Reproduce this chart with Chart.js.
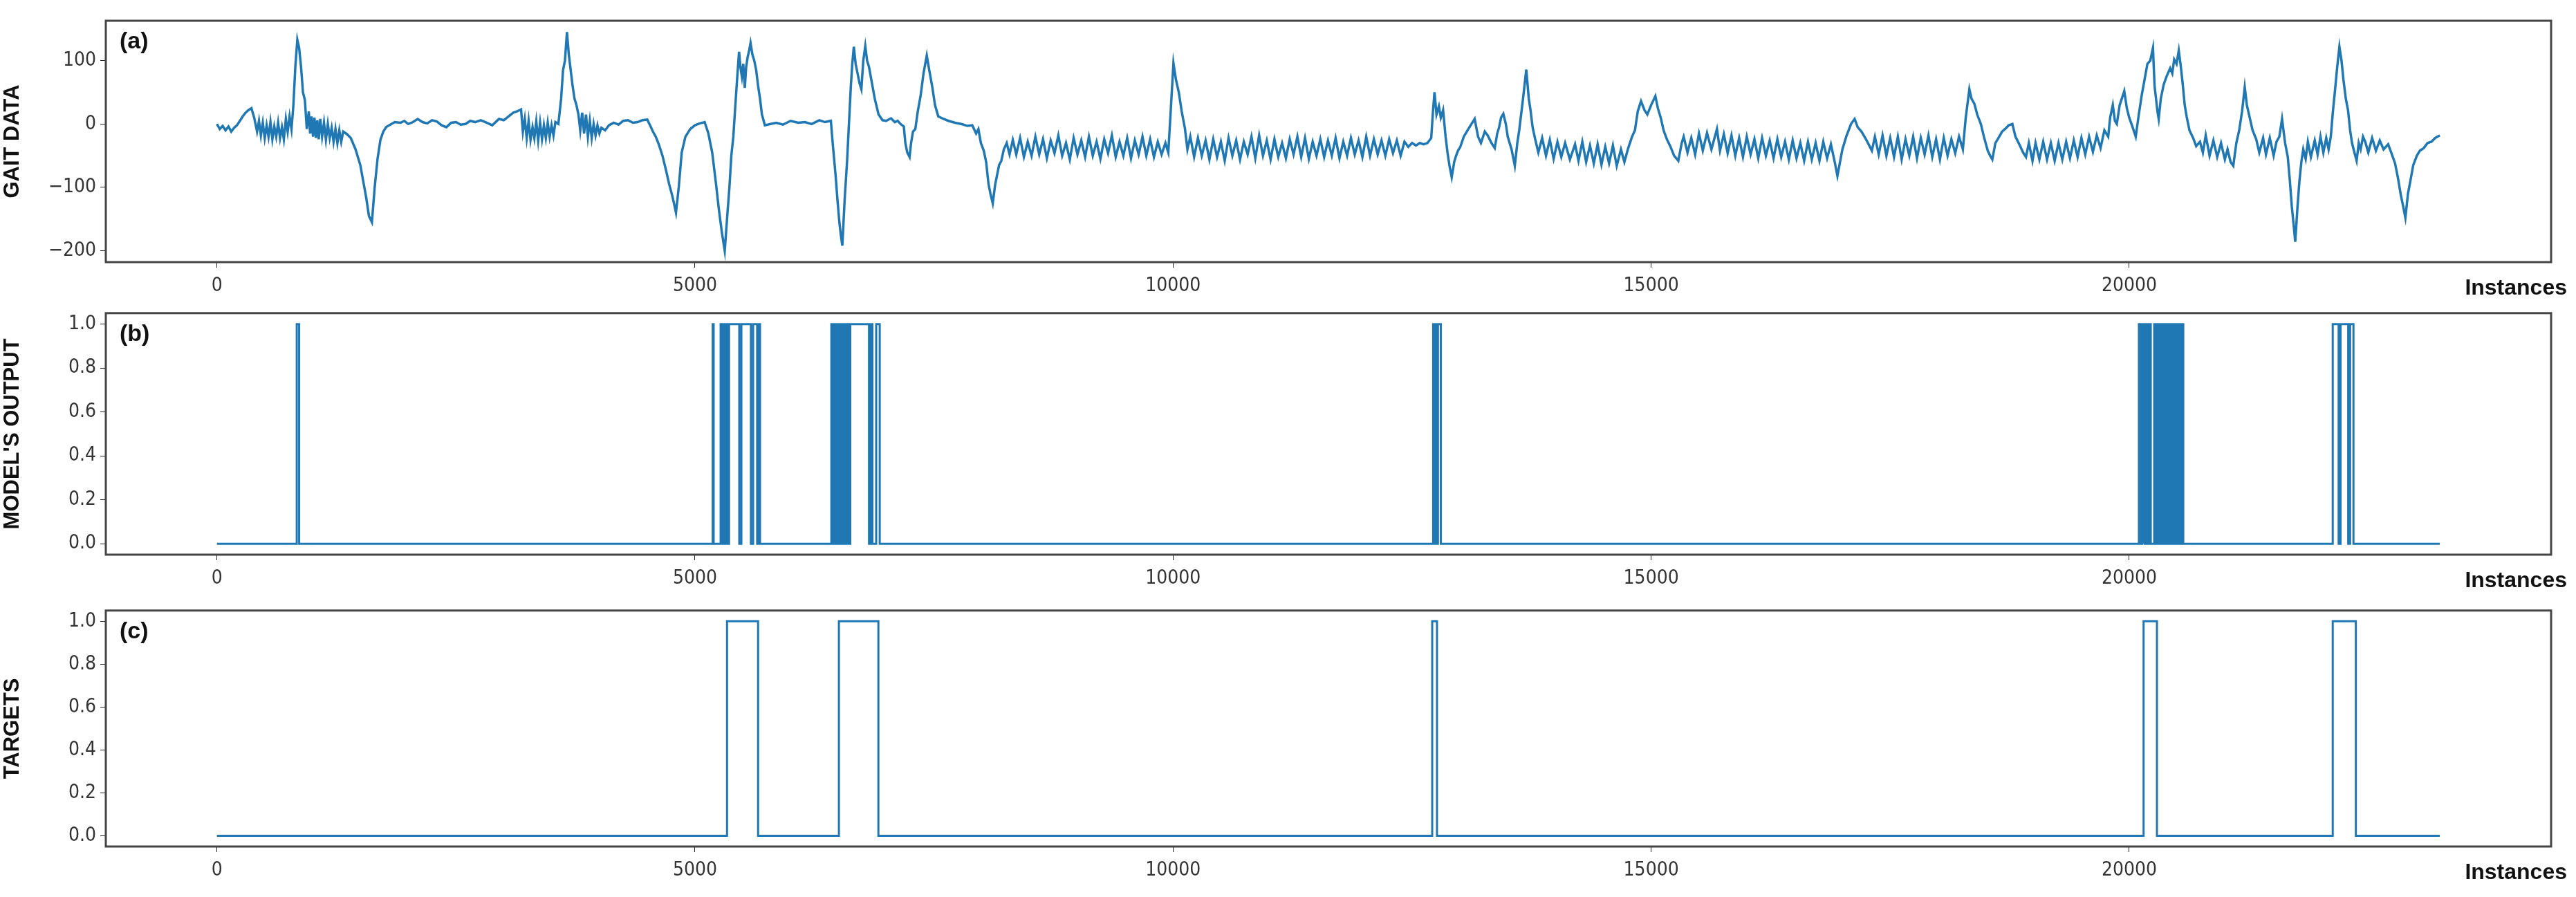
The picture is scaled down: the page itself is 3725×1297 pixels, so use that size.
<!DOCTYPE html>
<html><head><meta charset="utf-8">
<script src="https://cdn.jsdelivr.net/npm/chart.js@4"></script>
<style>body{margin:0;background:#fff;width:3725px;height:1297px;overflow:hidden}
.p{position:absolute;left:0;width:3725px}</style></head>
<body>
<div class="p" style="top:0;height:430px"><canvas id="ca"></canvas></div>
<div class="p" style="top:430px;height:430px"><canvas id="cb"></canvas></div>
<div class="p" style="top:860px;height:437px"><canvas id="cc"></canvas></div>
<script>
const xTicks=[0,5000,10000,15000,20000];
const gaitTicks=[-200,-100,0,100];
const binTicks=[0,0.2,0.4,0.6,0.8,1.0];
const gait=[[0,0],[30,-8],[60,-3],[90,-10],[121,-4],[150,-12],[180,-6],[210,-2],[240,5],[270,12],[300,18],[330,22],[361,25],[390,10],[420,-12],[440,5],[460,-18],[480,2],[500,-22],[520,-2],[540,-20],[560,3],[580,-24],[600,-4],[620,-20],[640,2],[660,-22],[680,-5],[700,-24],[721,8],[740,-12],[760,12],[780,-8],[800,30],[820,90],[841,133],[860,120],[880,90],[900,50],[920,38],[940,-8],[961,20],[975,-15],[990,12],[1005,-20],[1020,10],[1035,-22],[1050,6],[1065,-24],[1081,8],[1100,-20],[1120,2],[1140,-25],[1160,0],[1180,-22],[1200,-6],[1220,-28],[1240,-8],[1260,-30],[1280,-10],[1300,-28],[1321,-12],[1360,-16],[1400,-22],[1450,-40],[1500,-65],[1530,-90],[1560,-115],[1590,-145],[1621,-155],[1650,-100],[1680,-55],[1710,-25],[1740,-12],[1770,-5],[1801,-2],[1860,3],[1921,2],[1960,5],[2000,0],[2050,3],[2100,8],[2150,3],[2200,1],[2250,6],[2300,4],[2350,-2],[2400,-5],[2450,2],[2500,3],[2550,-1],[2600,0],[2650,5],[2700,3],[2760,6],[2821,2],[2880,-2],[2950,8],[3000,6],[3050,12],[3100,18],[3140,20],[3181,23],[3200,-12],[3220,8],[3240,-22],[3260,5],[3280,-25],[3301,-5],[3320,-22],[3340,4],[3360,-26],[3380,2],[3400,-24],[3420,-2],[3440,-22],[3460,2],[3480,-20],[3500,-2],[3520,-18],[3540,3],[3571,0],[3600,40],[3620,85],[3640,100],[3661,145],[3680,110],[3700,85],[3720,60],[3740,40],[3760,30],[3781,15],[3800,-10],[3820,18],[3840,-15],[3860,15],[3880,-20],[3900,5],[3920,-22],[3940,0],[3960,-18],[3980,-2],[4000,-15],[4021,-6],[4060,-10],[4100,-2],[4150,2],[4200,-1],[4250,5],[4300,6],[4350,2],[4400,3],[4450,6],[4501,7],[4530,-2],[4560,-12],[4590,-20],[4621,-32],[4660,-50],[4700,-75],[4730,-95],[4760,-112],[4780,-125],[4801,-140],[4830,-100],[4861,-45],[4900,-20],[4950,-8],[5000,-2],[5050,1],[5101,3],[5140,-15],[5180,-45],[5220,-95],[5250,-135],[5280,-170],[5311,-200],[5335,-150],[5360,-100],[5380,-50],[5401,-20],[5420,25],[5440,70],[5461,114],[5475,90],[5490,75],[5505,95],[5521,57],[5535,90],[5550,105],[5565,115],[5581,128],[5600,110],[5620,100],[5640,85],[5660,60],[5680,40],[5700,15],[5731,-2],[5790,0],[5850,2],[5920,-1],[6000,5],[6080,2],[6150,3],[6220,0],[6300,6],[6360,3],[6421,5],[6440,-30],[6470,-80],[6490,-120],[6510,-155],[6525,-175],[6541,-192],[6565,-120],[6590,-60],[6610,0],[6630,60],[6645,95],[6661,122],[6680,95],[6700,80],[6720,65],[6740,55],[6760,100],[6781,123],[6800,100],[6820,90],[6850,65],[6880,40],[6920,15],[6961,6],[7000,5],[7050,9],[7090,3],[7120,5],[7150,0],[7184,-4],[7200,-30],[7220,-45],[7244,-52],[7260,-30],[7280,-12],[7304,-8],[7330,20],[7360,45],[7390,80],[7424,108],[7450,85],[7480,60],[7510,30],[7544,12],[7600,8],[7650,5],[7720,2],[7784,0],[7850,-3],[7900,-2],[7940,-15],[7964,-8],[7990,-30],[8020,-42],[8045,-60],[8070,-95],[8090,-110],[8114,-125],[8140,-95],[8160,-80],[8180,-65],[8204,-58],[8230,-40],[8260,-30],[8290,-48],[8324,-25],
[8360,-48],[8400,-22],[8440,-52],[8480,-28],[8520,-50],[8560,-20],[8600,-48],[8640,-24],[8680,-54],[8720,-26],[8760,-46],[8800,-18],[8840,-50],[8880,-30],[8920,-56],[8960,-22],[9000,-48],[9040,-26],[9080,-52],[9120,-20],[9160,-50],[9200,-28],[9240,-55],[9280,-24],[9320,-46],[9360,-18],[9400,-52],[9440,-28],[9480,-50],[9520,-22],[9560,-54],[9600,-26],[9640,-48],[9680,-20],[9720,-50],[9760,-24],[9800,-52],[9840,-28],[9880,-48],[9920,-30],[9950,-45],[9975,20],[10004,96],[10030,70],[10060,50],[10090,20],[10124,-7],[10150,-40],[10180,-20],[10220,-52],[10260,-22],[10300,-50],[10340,-26],[10380,-56],[10420,-24],[10460,-52],[10500,-28],[10540,-58],[10580,-22],[10620,-50],[10660,-26],[10700,-56],[10740,-28],[10780,-48],[10820,-20],[10860,-54],[10900,-18],[10940,-50],[10980,-26],[11020,-56],[11060,-24],[11100,-52],[11140,-30],[11180,-54],[11220,-24],[11260,-48],[11300,-20],[11340,-52],[11380,-22],[11420,-55],[11460,-28],[11500,-50],[11540,-24],[11580,-52],[11620,-26],[11660,-50],[11700,-22],[11740,-54],[11780,-28],[11820,-50],[11860,-22],[11900,-48],[11940,-26],[11980,-52],[12020,-20],[12060,-50],[12100,-24],[12140,-48],[12180,-26],[12220,-50],[12260,-24],[12300,-46],[12340,-26],[12380,-50],[12420,-28],[12460,-36],[12500,-30],[12540,-34],[12580,-30],[12620,-32],[12660,-30],[12700,-22],[12718,20],[12734,50],[12755,15],[12780,28],[12800,10],[12824,22],[12850,-20],[12870,-45],[12890,-65],[12914,-84],[12940,-60],[12960,-50],[12980,-42],[13004,-36],[13040,-20],[13080,-10],[13120,0],[13154,8],[13190,-20],[13220,-30],[13260,-12],[13290,-18],[13330,-30],[13364,-38],[13390,-15],[13410,-5],[13430,10],[13454,16],[13480,0],[13500,-20],[13540,-40],[13574,-66],[13600,-30],[13620,-10],[13660,40],[13694,86],[13720,40],[13740,20],[13760,-5],[13784,-22],[13820,-45],[13860,-22],[13900,-50],[13940,-25],[13980,-55],[14020,-28],[14060,-52],[14100,-30],[14150,-56],[14204,-32],[14240,-58],[14280,-28],[14320,-60],[14360,-34],[14400,-62],[14440,-32],[14480,-64],[14520,-36],[14560,-62],[14600,-34],[14640,-66],[14684,-40],[14720,-60],[14760,-38],[14800,-20],[14830,-10],[14860,20],[14894,36],[14930,22],[14960,15],[15000,30],[15044,44],[15070,25],[15100,10],[15130,-10],[15164,-24],[15200,-35],[15240,-50],[15284,-58],[15320,-30],[15340,-20],[15380,-45],[15420,-22],[15460,-48],[15500,-15],[15540,-42],[15584,-14],[15630,-40],[15688,-8],[15720,-42],[15760,-16],[15800,-46],[15840,-18],[15880,-50],[15920,-22],[15960,-52],[16000,-20],[16040,-48],[16080,-24],[16120,-54],[16160,-22],[16200,-50],[16240,-26],[16280,-54],[16320,-24],[16360,-52],[16400,-28],[16440,-56],[16480,-26],[16520,-54],[16560,-30],[16600,-58],[16640,-28],[16680,-56],[16720,-30],[16760,-58],[16800,-28],[16840,-54],[16880,-32],[16920,-60],[16948,-82],[17000,-40],[17040,-20],[17090,0],[17128,8],[17160,-5],[17200,-12],[17250,-25],[17308,-42],[17340,-20],[17380,-48],[17420,-18],[17460,-50],[17500,-22],[17540,-52],[17580,-20],[17620,-56],[17660,-24],[17700,-50],[17740,-20],[17780,-54],[17820,-22],[17860,-48],[17900,-18],[17940,-52],[17980,-24],[18020,-56],[18060,-22],[18100,-50],[18140,-24],[18180,-46],[18220,-20],[18260,-40],[18290,10],[18328,55],[18350,40],[18380,32],[18410,15],[18448,0],[18480,-20],[18520,-42],[18545,-50],[18568,-56],[18600,-30],[18640,-20],[18670,-12],[18700,-8],[18740,-2],[18778,0],[18810,-20],[18850,-32],[18890,-45],[18920,-52],[18950,-30],[18988,-58],[19020,-30],[19060,-56],[19100,-28],[19140,-56],[19180,-30],[19220,-58],[19260,-30],[19300,-56],[19340,-28],[19380,-54],[19420,-26],[19460,-52],[19500,-22],[19540,-48],[19580,-20],[19620,-44],[19660,-18],[19700,-38],[19740,-10],[19780,-20],[19800,10],[19828,30],[19850,5],[19870,0],[19900,30],[19948,52],[19975,25],[20000,10],[20035,-5],[20068,-20],[20100,15],[20130,45],[20160,70],[20190,95],[20220,100],[20248,120],[20265,60],[20280,40],[20295,20],[20308,8],[20330,40],[20360,62],[20390,75],[20428,88],[20450,80],[20470,102],[20495,95],[20518,116],[20540,90],[20560,62],[20580,30],[20600,12],[20630,-10],[20668,-22],[20700,-35],[20740,-28],[20770,-45],[20800,-18],[20840,-50],[20880,-26],[20920,-52],[20960,-30],[21000,-56],[21028,-40],[21060,-60],[21088,-66],[21120,-30],[21150,-10],[21180,20],[21208,58],[21230,30],[21260,10],[21290,-10],[21328,-24],[21360,-45],[21400,-22],[21430,-48],[21470,-22],[21510,-50],[21540,-28],[21570,-20],[21598,8],[21630,-30],[21658,-52],[21680,-90],[21700,-130],[21720,-160],[21736,-186],[21760,-130],[21780,-90],[21800,-60],[21820,-40],[21845,-55],[21868,-28],[21900,-52],[21940,-26],[21970,-48],[22000,-20],[22030,-45],[22060,-22],[22085,-40],[22108,-20],[22130,20],[22150,50],[22175,90],[22198,122],[22220,100],[22240,70],[22265,40],[22288,22],[22310,-10],[22330,-30],[22355,-45],[22378,-58],[22400,-30],[22420,-40],[22445,-20],[22468,-28],[22500,-45],[22540,-22],[22580,-42],[22620,-26],[22660,-40],[22708,-32],[22740,-45],[22780,-62],[22810,-85],[22840,-112],[22865,-130],[22888,-148],[22915,-110],[22940,-90],[22970,-65],[23008,-50],[23040,-42],[23080,-38],[23120,-30],[23160,-28],[23200,-22],[23248,-18]];
const modelOn=[[835,860],[5185,5195],[5268,5278],[5285,5295],[5302,5312],[5320,5330],[5338,5348],[5356,5463],[5485,5585],[5608,5650],[5660,5680],[6426,6436],[6444,6454],[6462,6472],[6480,6490],[6498,6508],[6516,6526],[6534,6544],[6552,6562],[6570,6580],[6588,6598],[6606,6616],[6624,6820],[6835,6855],[6895,6932],[12720,12735],[12745,12760],[12770,12800],[20101,20111],[20118,20128],[20135,20145],[20152,20162],[20170,20180],[20188,20198],[20206,20225],[20261,20271],[20280,20290],[20300,20310],[20320,20330],[20340,20350],[20360,20370],[20380,20390],[20400,20410],[20420,20430],[20440,20450],[20460,20470],[20480,20490],[20500,20510],[20520,20530],[20545,20565],[22128,22190],[22210,22290],[22310,22345]];
const targetOn=[[5335,5660],[6505,6918],[12710,12760],[20150,20290],[22128,22370]];
const xEnd=23248;

function steps(on){const d=[{x:0,y:0}];on.forEach(([s,e])=>{d.push({x:s,y:0},{x:s,y:1},{x:e,y:1},{x:e,y:0});});d.push({x:xEnd,y:0});return d;}
const C='#1f77b4';
const tickFont={family:"'Liberation Sans Narrow','DejaVu Sans Condensed',sans-serif",size:28};
function make(id,data,yTicks,ymin,ymax,title,letter,padTop,xH,fmt,bw){
  const frame={id:'f',afterDraw(ch){const a=ch.chartArea,c=ch.ctx;c.save();c.strokeStyle='#444';c.lineWidth=3;c.strokeRect(a.left,a.top,a.right-a.left,a.bottom-a.top);
    c.fillStyle='#111';c.font="bold 34px 'Liberation Sans',Arial,sans-serif";c.textBaseline='top';c.textAlign='left';c.fillText(letter,a.left+20,a.top+14);
    c.font="bold 32px 'Liberation Sans',Arial,sans-serif";c.textAlign='right';c.fillText('Instances',3712,a.bottom+22);c.restore();}};
  new Chart(document.getElementById(id),{type:'line',data:{datasets:[{data:data,borderColor:C,borderWidth:bw,pointRadius:0,tension:0,fill:false}]},
   plugins:[frame],
   options:{animation:false,responsive:true,maintainAspectRatio:false,
    layout:{padding:{top:padTop,right:36,left:0,bottom:0}},
    plugins:{legend:{display:false},tooltip:{enabled:false}},
    scales:{
     x:{type:'linear',min:-1162,max:24412,afterBuildTicks(s){s.ticks=xTicks.map(v=>({value:v}));},afterFit(s){s.height=xH;},
        grid:{drawOnChartArea:false,drawTicks:true,tickLength:8,color:'#222'},border:{display:false},
        ticks:{color:'#333',font:tickFont,padding:10,maxRotation:0,callback:v=>String(v)}},
     y:{min:ymin,max:ymax,afterBuildTicks(s){s.ticks=yTicks.map(v=>({value:v}));},afterFit(s){s.width=153;},
        grid:{drawOnChartArea:false,drawTicks:true,tickLength:8,color:'#222'},border:{display:false},
        ticks:{color:'#333',font:tickFont,padding:6,callback:fmt},
        title:{display:true,text:title,color:'#111',font:{family:"'Liberation Sans',Arial,sans-serif",weight:'bold',size:31},padding:{top:0,bottom:4}}}
    }}});
}
make('ca',gait.map(([x,y])=>({x,y})),gaitTicks,-218,163,'GAIT DATA','(a)',30,51,v=>v<0?'\u2212'+(-v):String(v),3.5);
make('cb',steps(modelOn),binTicks,-0.05,1.05,"MODEL'S OUTPUT",'(b)',21,58,v=>v.toFixed(1),3);
make('cc',steps(targetOn),binTicks,-0.05,1.05,'TARGETS','(c)',14,73,v=>v.toFixed(1),3);
</script></body></html>
